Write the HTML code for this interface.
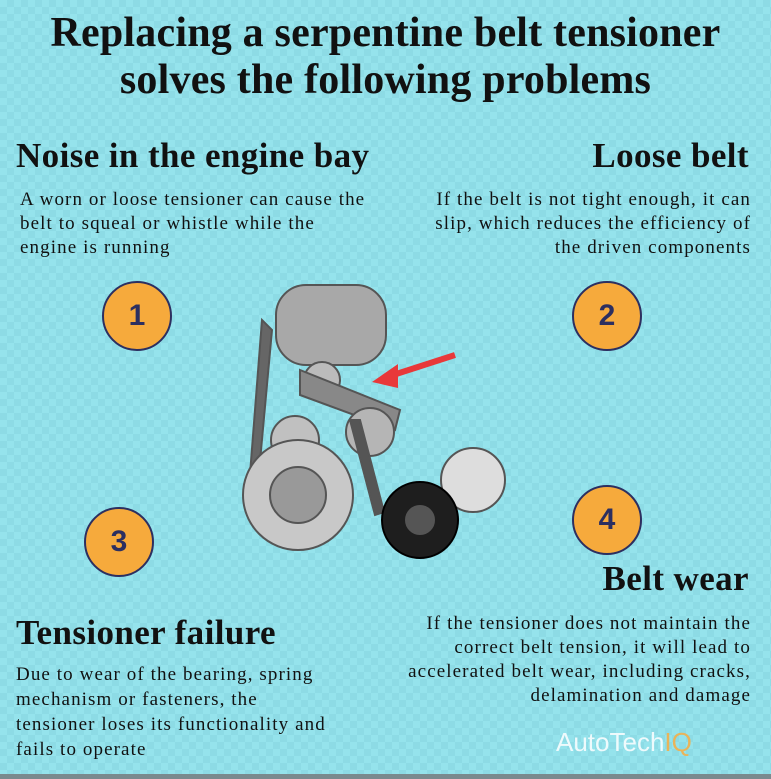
<!DOCTYPE html>
<html><head><meta charset="utf-8"><style>
body{margin:0}
#p{position:relative;width:771px;height:779px;overflow:hidden;font-family:"Liberation Serif",serif;color:#111;
background-color:#95e3ec;
background-image:linear-gradient(45deg,#8ddbe5 25%,transparent 25%,transparent 75%,#8ddbe5 75%),linear-gradient(45deg,#8ddbe5 25%,transparent 25%,transparent 75%,#8ddbe5 75%);
background-size:14px 14px;background-position:0 0,7px 7px;}
.t{position:absolute;white-space:nowrap}
h1{position:absolute;left:0;width:771px;top:10px;margin:0;text-align:center;font-size:42px;line-height:47px;font-weight:bold;letter-spacing:0.2px}
.h{font-size:35px;font-weight:bold;line-height:40px;letter-spacing:0.4px}
.b{font-size:19px;line-height:24px;letter-spacing:1.1px}
.c{position:absolute;width:66px;height:66px;border-radius:50%;background:#f6aa3c;border:2px solid #2c2f60;font:bold 30px "Liberation Sans",sans-serif;color:#2c2f60;text-align:center;line-height:66px}
</style></head><body><div id="p">
<h1>Replacing a serpentine belt tensioner<br>solves the following problems</h1>
<div class="t h" style="left:16px;top:136px">Noise in the engine bay</div>
<div class="t b" style="left:20px;top:188px">A worn or loose tensioner can cause the<br>belt to squeal or whistle while the<br>engine is running</div>
<div class="t h" style="right:22px;top:136px">Loose belt</div>
<div class="t b" style="right:20px;top:188px;text-align:right">If the belt is not tight enough, it can<br>slip, which reduces the efficiency of<br>the driven components</div>
<div class="c" style="left:102px;top:281px">1</div>
<div class="c" style="left:572px;top:281px">2</div>
<div class="c" style="left:84px;top:507px">3</div>
<div class="c" style="left:572px;top:485px">4</div>
<div class="t h" style="right:22px;top:559px">Belt wear</div>
<div class="t b" style="right:20px;top:612px;text-align:right">If the tensioner does not maintain the<br>correct belt tension, it will lead to<br>accelerated belt wear, including cracks,<br>delamination and damage</div>
<div class="t h" style="left:16px;top:613px">Tensioner failure</div>
<div class="t b" style="left:16px;top:662px;line-height:25px">Due to wear of the bearing, spring<br>mechanism or fasteners, the<br>tensioner loses its functionality and<br>fails to operate</div>
<div class="t" style="left:556px;top:727px;font:26px 'Liberation Sans',sans-serif;color:#eefafc">AutoTech<span style="color:#e9b45a">IQ</span></div>
<div style="position:absolute;left:0;top:774px;width:771px;height:5px;background:#7a8a8e"></div>
<svg style="position:absolute;left:0;top:0" width="771" height="779">
<g fill="#9a9a9a" stroke="#555" stroke-width="2">
<path d="M262 320 L248 500 L256 505 L272 330Z" fill="#666"/>
<rect x="276" y="285" width="110" height="80" rx="30" fill="#a8a8a8"/>
<circle cx="322" cy="380" r="18" fill="#bbb"/>
<path d="M300 370 L400 410 L395 430 L300 395Z" fill="#888"/>
<circle cx="370" cy="432" r="24" fill="#b5b5b5"/>
<circle cx="295" cy="440" r="24" fill="#c0c0c0"/>
<circle cx="298" cy="495" r="55" fill="#c8c8c8"/>
<circle cx="298" cy="495" r="28" fill="#999"/>
<path d="M350 420 L375 515 L384 512 L360 420Z" fill="#555"/>
<circle cx="473" cy="480" r="32" fill="#ddd"/>
<circle cx="420" cy="520" r="38" fill="#1e1e1e" stroke="#000"/>
<circle cx="420" cy="520" r="14" fill="#555"/>
</g>
<path d="M455 355 L390 376" stroke="#e8383a" stroke-width="6"/>
<path d="M372 382 L398 364 L398 388Z" fill="#e8383a"/>
</svg>
</div></body></html>
